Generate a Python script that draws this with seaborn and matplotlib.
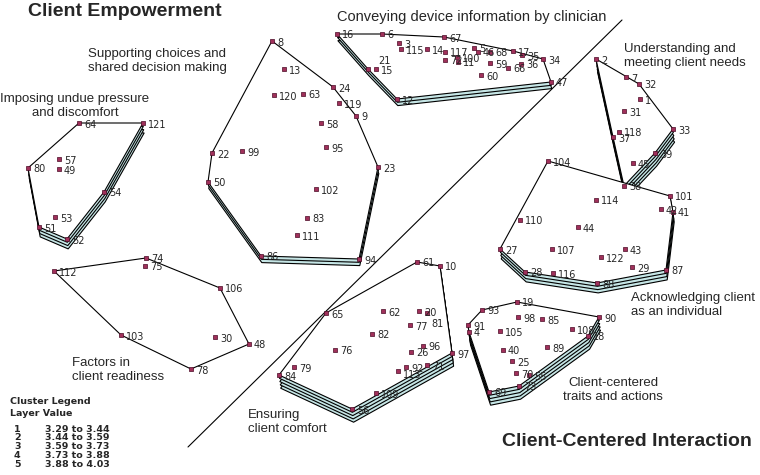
import numpy as np
import pandas as pd
import matplotlib.pyplot as plt
import seaborn as sns

# statement positions on the point map (statement id -> x, y)
stmt_x = [640, 596, 399, 469, 474, 382, 626, 272, 356, 440,
          458, 397, 284, 427, 376, 337, 513, 588, 517, 419,
          368, 212, 378, 333, 512, 411, 500, 525, 632, 215,
          624, 639, 673, 543, 522, 521, 613, 624, 655, 503,
          673, 661, 625, 578, 633, 478, 551, 249, 59, 208,
          39, 67, 55, 104, 529, 352, 59, 321, 490, 481,
          417, 383, 303, 79, 326, 508, 444, 490, 489, 516,
          427, 445, 519, 146, 145, 335, 410, 191, 294, 28,
          427, 372, 307, 279, 542, 261, 666, 597, 547, 599,
          468, 406, 482, 359, 326, 423, 452, 518, 242, 457,
          670, 316, 121, 548, 500, 220, 552, 572, 376, 520,
          297, 54, 398, 596, 401, 553, 445, 619, 339, 274,
          143, 601]
stmt_y = [99, 59, 43, 332, 48, 34, 77, 41, 116, 266,
          62, 99, 69, 49, 69, 34, 51, 336, 302, 311,
          69, 153, 167, 87, 361, 352, 249, 272, 267, 337,
          111, 84, 129, 59, 55, 64, 137, 186, 153, 350,
          212, 209, 249, 227, 163, 52, 82, 344, 169, 182,
          227, 239, 217, 192, 375, 409, 159, 123, 63, 75,
          262, 311, 94, 123, 313, 68, 37, 52, 392, 373,
          365, 60, 386, 258, 266, 350, 325, 369, 367, 168,
          313, 334, 218, 375, 319, 256, 270, 283, 347, 317,
          325, 367, 310, 259, 147, 346, 353, 317, 151, 57,
          196, 189, 335, 161, 331, 288, 249, 329, 393, 220,
          235, 271, 371, 200, 49, 273, 52, 132, 103, 95,
          123, 257]
stmt_id = list(range(1, len(stmt_x) + 1))

# clusters: members and rating layers (1-5)
cluster_names = ["Conveying device information by clinician",
                 "Supporting choices and\nshared decision making",
                 "Imposing undue pressure\nand discomfort",
                 "Factors in\nclient readiness",
                 "Understanding and\nmeeting client needs",
                 "Acknowledging client\nas an individual",
                 "Ensuring\nclient comfort",
                 "Client-centered\ntraits and actions"]
cluster_members = [
    [16, 6, 67, 3, 115, 14, 117, 5, 46, 68, 17, 35, 34, 21, 15, 72, 100, 11, 59, 66, 36, 60, 47, 12],
    [8, 13, 24, 120, 63, 119, 9, 58, 95, 22, 99, 23, 50, 102, 83, 111, 86, 94],
    [64, 121, 57, 49, 80, 54, 53, 51, 52],
    [74, 75, 112, 106, 103, 30, 48, 78],
    [2, 7, 32, 1, 31, 33, 118, 37, 39, 45, 38],
    [104, 101, 114, 42, 41, 110, 44, 27, 107, 43, 122, 29, 87, 28, 116, 88],
    [61, 10, 65, 62, 20, 81, 77, 82, 96, 76, 26, 97, 79, 92, 71, 113, 84, 109, 56],
    [19, 93, 90, 98, 85, 91, 4, 105, 108, 18, 89, 40, 25, 70, 55, 73, 69],
]
cluster_layers = [3, 3, 4, 1, 5, 4, 5, 5]

legend_layers = ["1", "2", "3", "4", "5"]
legend_ranges = ["3.29 to 3.44", "3.44 to 3.59", "3.59 to 3.73", "3.73 to 3.88", "3.88 to 4.03"]

df = pd.DataFrame({"id": stmt_id, "x": stmt_x, "y": stmt_y})


def convex_hull(pts):
    pts = sorted(set(map(tuple, pts)))
    def cross(o, a, b):
        return (a[0] - o[0]) * (b[1] - o[1]) - (a[1] - o[1]) * (b[0] - o[0])
    lower, upper = [], []
    for p in pts:
        while len(lower) >= 2 and cross(lower[-2], lower[-1], p) <= 0:
            lower.pop()
        lower.append(p)
    for p in reversed(pts):
        while len(upper) >= 2 and cross(upper[-2], upper[-1], p) <= 0:
            upper.pop()
        upper.append(p)
    return np.array(lower[:-1] + upper[:-1])


sns.set_style("white")
fig = plt.figure(figsize=(7.6, 4.75), dpi=100)
ax = fig.add_axes([0, 0, 1, 1])
ax.set_xlim(0, 760)
ax.set_ylim(475, 0)
ax.axis("off")

# layered cluster polygons
dx, dy = 0.4, 3.3
for members, n in zip(cluster_members, cluster_layers):
    sub = df.set_index("id").loc[members]
    hull = convex_hull(sub[["x", "y"]].values)
    for k in reversed(range(n)):
        fc = "white" if k == 0 else "#c6e6e6"
        ax.fill(hull[:, 0] + k * dx, hull[:, 1] + k * dy, facecolor=fc,
                edgecolor="black", linewidth=0.8, zorder=2)

# divider between the two regions
ax.plot([188, 622], [447, 20], color="black", linewidth=0.8, zorder=3)

sns.scatterplot(data=df, x="x", y="y", marker="s", s=9, color="#a0305a",
                edgecolor="#4a0a25", linewidth=0.5, ax=ax, zorder=4, legend=False)

label_shift = {21: (10, -8), 81: (4, 11), 113: (5, 4)}
for i, x, y in zip(stmt_id, stmt_x, stmt_y):
    ox, oy = label_shift.get(i, (5, 1.5))
    ax.text(x + ox, y + oy, str(i), fontsize=7, va="center", ha="left",
            family="DejaVu Sans", zorder=5)

# cluster names
name_pos = [(337, 17, "left", 10.5), (157, 61, "center", 9.5), (75, 106, "center", 9.5),
            (72, 370, "left", 9.5), (624, 56, "left", 9.5), (631, 305, "left", 9.5),
            (248, 422, "left", 9.5), (613, 390, "center", 9.5)]
for name, (tx, ty, ha, fs) in zip(cluster_names, name_pos):
    ax.text(tx, ty, name, fontsize=fs, ha=ha, va="center", family="Liberation Sans",
            linespacing=1.3, zorder=6)

ax.text(28, 12, "Client Empowerment", fontsize=14, fontweight="bold",
        family="Liberation Sans", va="center", ha="left")
ax.text(752, 442, "Client-Centered Interaction", fontsize=14, fontweight="bold",
        family="Liberation Sans", va="center", ha="right")

# legend
ax.text(10, 401, "Cluster Legend", fontsize=6.8, fontweight="bold", va="center", family="DejaVu Sans")
ax.text(10, 414, "Layer Value", fontsize=6.8, fontweight="bold", va="center", family="DejaVu Sans")
for j, (lv, rng) in enumerate(zip(legend_layers, legend_ranges)):
    ax.text(14, 429 + j * 8.8, lv, fontsize=6.8, fontweight="bold", va="center", family="DejaVu Sans")
    ax.text(45, 429 + j * 8.8, rng, fontsize=6.8, fontweight="bold", va="center", family="DejaVu Sans")

fig.savefig("out.png", dpi=100)
